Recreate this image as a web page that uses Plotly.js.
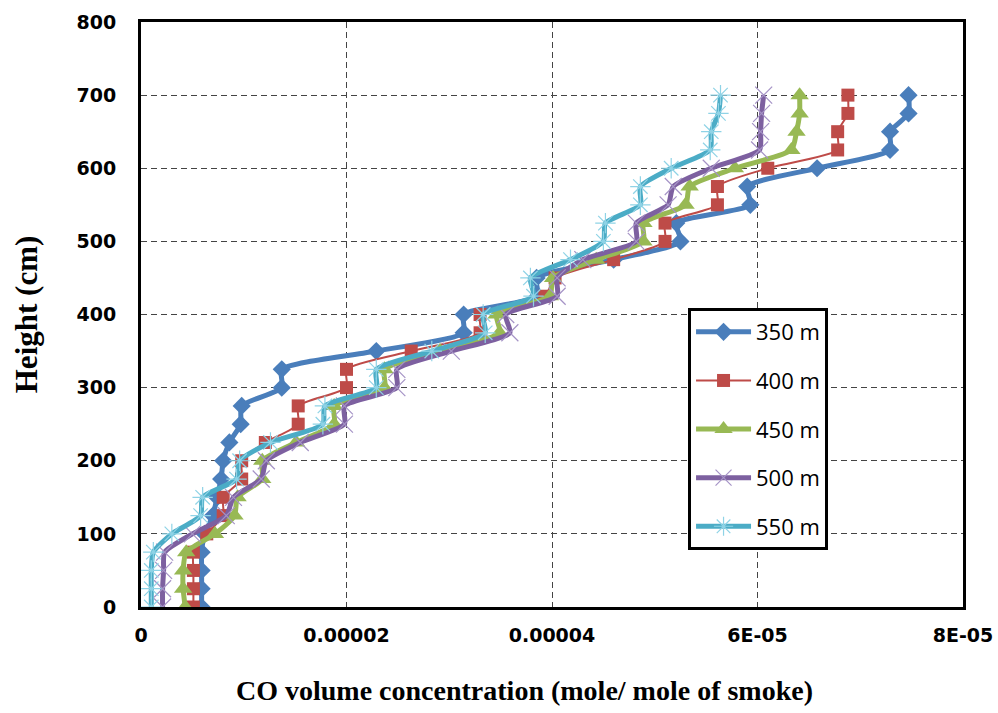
<!DOCTYPE html>
<html>
<head>
<meta charset="utf-8">
<script src="https://cdn.plot.ly/plotly-3.0.1.min.js"></script>
<style>html,body{margin:0;padding:0;background:#fff;}#chart{width:998px;height:713px;}</style>
</head>
<body>
<div id="chart"></div>
<script>
// Heights (cm)
const heights = [0,25,50,75,100,125,150,175,200,225,250,275,300,325,350,375,400,425,450,475,500,525,550,575,600,625,650,675,700];

// CO volume concentration (mole / mole of smoke)
const co350 = [5.9e-6,5.9e-6,5.9e-6,5.9e-6,6.2e-6,7.0e-6,7.4e-6,7.8e-6,8.0e-6,8.6e-6,9.7e-6,9.8e-6,1.37e-5,1.37e-5,2.29e-5,3.14e-5,3.14e-5,3.86e-5,3.85e-5,4.6e-5,5.25e-5,5.21e-5,5.93e-5,5.90e-5,6.58e-5,7.29e-5,7.29e-5,7.47e-5,7.47e-5];
const co400 = [5.1e-6,5.1e-6,5.1e-6,5.1e-6,6.4e-6,8.0e-6,8.0e-6,9.8e-6,9.8e-6,1.21e-5,1.53e-5,1.53e-5,2.00e-5,2.00e-5,2.63e-5,3.30e-5,3.30e-5,3.93e-5,4.03e-5,4.60e-5,5.10e-5,5.10e-5,5.61e-5,5.61e-5,6.10e-5,6.78e-5,6.78e-5,6.88e-5,6.88e-5];
const co450 = [4.3e-6,4.1e-6,4.1e-6,4.4e-6,7.2e-6,9.1e-6,9.4e-6,1.18e-5,1.18e-5,1.51e-5,1.88e-5,1.88e-5,2.37e-5,2.37e-5,2.91e-5,3.49e-5,3.46e-5,3.98e-5,4.01e-5,4.43e-5,4.89e-5,4.89e-5,5.30e-5,5.34e-5,5.78e-5,6.33e-5,6.38e-5,6.41e-5,6.41e-5];
const co500 = [2.1e-6,2.1e-6,2.2e-6,2.3e-6,5.0e-6,8.3e-6,9.0e-6,1.17e-5,1.22e-5,1.55e-5,1.98e-5,1.98e-5,2.49e-5,2.49e-5,3.02e-5,3.59e-5,3.55e-5,4.05e-5,4.05e-5,4.30e-5,4.82e-5,4.82e-5,5.13e-5,5.18e-5,5.55e-5,6.02e-5,6.03e-5,6.04e-5,6.06e-5];
const co550 = [1.0e-6,1.0e-6,1.0e-6,1.2e-6,3.0e-6,5.8e-6,6.0e-6,9.3e-6,9.6e-6,1.26e-5,1.77e-5,1.79e-5,2.29e-5,2.29e-5,2.83e-5,3.35e-5,3.33e-5,3.82e-5,3.79e-5,4.18e-5,4.50e-5,4.52e-5,4.86e-5,4.86e-5,5.16e-5,5.54e-5,5.55e-5,5.62e-5,5.64e-5];

const seriesNames = ['350 m','400 m','450 m','500 m','550 m'];

const xTickVals = [0, 0.00002, 0.00004, 0.00006, 0.00008];
const xTickText = ['0', '0.00002', '0.00004', '6E-05', '8E-05'];
const yTickVals = [0,100,200,300,400,500,600,700,800];
const yTickText = ['0','100','200','300','400','500','600','700','800'];

const xTitle = 'CO volume concentration (mole/ mole of smoke)';
const yTitle = 'Height (cm)';

const traces = [
  {x: co350, y: heights, name: seriesNames[0], legendgroup:'g1', mode:'lines+markers',
   line:{color:'#4A7EBB', width:5, shape:'spline', smoothing:0.6},
   marker:{symbol:'diamond', size:14, color:'#4A7EBB'}},
  {x: co400, y: heights, name: seriesNames[1], legendgroup:'g2', mode:'lines+markers',
   line:{color:'#BE4B48', width:2, shape:'spline', smoothing:0.6},
   marker:{symbol:'square', size:13, color:'#BE4B48'}},
  {x: co450, y: heights, name: seriesNames[2], legendgroup:'g3', mode:'lines+markers',
   line:{color:'#98B954', width:5, shape:'spline', smoothing:0.6},
   marker:{symbol:'triangle-up', size:16, color:'#98B954'}},
  {x: co500, y: heights, name: seriesNames[3], legendgroup:'g4', mode:'lines+markers',
   line:{color:'#7D60A0', width:5, shape:'spline', smoothing:0.6},
   marker:{symbol:'x-thin-open', size:17, color:'#A593C6', line:{color:'#A593C6', width:1.2}}},
  {x: co550, y: heights, name: seriesNames[4], legendgroup:'g5', mode:'lines+markers',
   line:{color:'#4BACC6', width:5, shape:'spline', smoothing:0.6},
   marker:{symbol:'asterisk-open', size:17, color:'#8FD3E6', line:{color:'#8FD3E6', width:1.2}}}
];

const layout = {
  width: 998, height: 713,
  margin: {l:141, r:35, t:22, b:106},
  paper_bgcolor:'#fff', plot_bgcolor:'#fff',
  showlegend: true,
  xaxis: {
    range:[0, 0.00008], tickvals:xTickVals, ticktext:xTickText,
    showgrid:true, gridcolor:'#444', griddash:'6px,4px', gridwidth:1,
    zeroline:false, showline:true, linecolor:'#000', linewidth:3, mirror:true,
    ticks:'', ticklabelstandoff:9,
    tickfont:{family:'DejaVu Sans', size:19, color:'#000', weight:'bold'}
  },
  yaxis: {
    range:[0, 800], tickvals:yTickVals, ticktext:yTickText,
    showgrid:true, gridcolor:'#444', griddash:'6px,4px', gridwidth:1,
    zeroline:false, showline:true, linecolor:'#000', linewidth:3, mirror:true,
    ticks:'', ticklabelstandoff:18,
    tickfont:{family:'DejaVu Sans', size:19, color:'#000', weight:'bold'}
  },
  annotations: [
    {text:xTitle, xref:'paper', yref:'paper', x:0.467, y:-0.142, xanchor:'center', yanchor:'middle',
     showarrow:false, font:{family:'Liberation Serif', size:28, color:'#000', weight:'bold'}},
    {text:yTitle, xref:'paper', yref:'paper', x:-0.139, y:0.5, xanchor:'center', yanchor:'middle',
     textangle:-90, showarrow:false, font:{family:'Liberation Serif', size:31, color:'#000', weight:'bold'}}
  ],
  legend: {
    x:0.6655, xanchor:'left', y:0.511, yanchor:'top',
    bgcolor:'#fff', bordercolor:'#000', borderwidth:3,
    traceorder:'grouped', tracegroupgap:17, itemwidth:55,
    font:{family:'Open Sans', size:22, color:'#000'}
  }
};

Plotly.newPlot('chart', traces, layout, {staticPlot:true, displayModeBar:false});
</script>
</body>
</html>
